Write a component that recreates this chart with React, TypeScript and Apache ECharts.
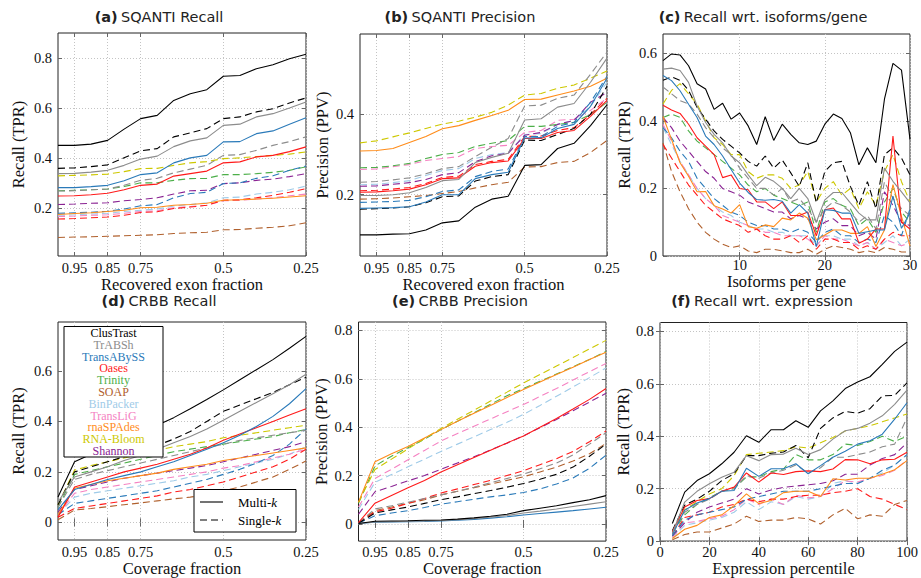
import { useEffect, useRef } from 'react';
import * as echarts from 'echarts';

// ---------- x values & ticks ----------
const FRACTION_X = [1, 0.95, 0.9, 0.85, 0.8, 0.75, 0.7, 0.65, 0.6, 0.55, 0.5, 0.45, 0.4, 0.35, 0.3, 0.25];
const FRACTION_TICKS = [0.95, 0.85, 0.75, 0.5, 0.25];
const ISOFORM_X = [1, 2, 3, 4, 5, 6, 7, 8, 9, 10, 11, 12, 13, 14, 15, 16, 17, 18, 19, 20, 21, 22, 23, 24, 25, 26, 27, 28, 29, 30];
const ISOFORM_TICKS = [10, 20, 30];
const EXPR_X = [5, 10, 15, 20, 25, 30, 35, 40, 45, 50, 55, 60, 65, 70, 75, 80, 85, 90, 95, 100];
const EXPR_TICKS = [0, 20, 40, 60, 80, 100];

// ---------- tools ----------
const TOOL_NAMES = ['ClusTrast', 'TrABSh', 'TransABySS', 'Oases', 'Trinity', 'SOAP', 'BinPacker', 'TransLiG', 'rnaSPAdes', 'RNA-Bloom', 'Shannon'];
const TOOL_COLORS: Record<string, string> = {
  ClusTrast: '#000000',
  TrABSh: '#8c8c8c',
  TransABySS: '#2a7ab9',
  Oases: '#ff1a1a',
  Trinity: '#4daf4a',
  SOAP: '#b0602d',
  BinPacker: '#9fcbe8',
  TransLiG: '#f582c2',
  rnaSPAdes: '#ff8c1a',
  'RNA-Bloom': '#cdc800',
  Shannon: '#8a2393',
};
// draw order: single-k (dashed) first, multi-k (solid) on top
const SERIES_KEYS = [
  'SOAP:S', 'BinPacker:S', 'TransLiG:S', 'Shannon:S', 'Trinity:S', 'RNA-Bloom:S', 'Oases:S', 'TransABySS:S', 'TrABSh:S', 'ClusTrast:S',
  'rnaSPAdes:M', 'Oases:M', 'TransABySS:M', 'TrABSh:M', 'ClusTrast:M',
];

// ---------- (a) SQANTI Recall ----------
const sqantiRecall: Record<string, number[]> = {
  'ClusTrast:M': [0.45, 0.45, 0.455, 0.47, 0.515, 0.557, 0.57, 0.63, 0.657, 0.673, 0.727, 0.73, 0.757, 0.773, 0.797, 0.815],
  'ClusTrast:S': [0.358, 0.36, 0.365, 0.372, 0.4, 0.428, 0.437, 0.484, 0.5, 0.517, 0.557, 0.564, 0.584, 0.597, 0.62, 0.64],
  'TrABSh:M': [0.337, 0.338, 0.343, 0.35, 0.37, 0.395, 0.407, 0.445, 0.468, 0.48, 0.53, 0.535, 0.564, 0.577, 0.6, 0.624],
  'TrABSh:S': [0.267, 0.268, 0.272, 0.275, 0.29, 0.31, 0.318, 0.34, 0.355, 0.37, 0.41, 0.413, 0.43, 0.45, 0.465, 0.484],
  'TransABySS:M': [0.281, 0.281, 0.285, 0.29, 0.308, 0.333, 0.34, 0.38, 0.4, 0.41, 0.464, 0.465, 0.497, 0.508, 0.535, 0.561],
  'TransABySS:S': [0.178, 0.18, 0.182, 0.186, 0.195, 0.208, 0.213, 0.24, 0.257, 0.262, 0.297, 0.3, 0.318, 0.328, 0.35, 0.367],
  'Oases:M': [0.247, 0.248, 0.252, 0.258, 0.272, 0.29, 0.295, 0.327, 0.337, 0.347, 0.38, 0.384, 0.404, 0.41, 0.425, 0.444],
  'Oases:S': [0.155, 0.157, 0.16, 0.163, 0.17, 0.181, 0.184, 0.197, 0.203, 0.21, 0.23, 0.232, 0.24, 0.25, 0.262, 0.277],
  'Trinity:S': [0.268, 0.27, 0.272, 0.275, 0.285, 0.3, 0.3, 0.31, 0.317, 0.318, 0.333, 0.333, 0.337, 0.342, 0.35, 0.364],
  'RNA-Bloom:S': [0.328, 0.33, 0.332, 0.335, 0.345, 0.357, 0.358, 0.37, 0.38, 0.385, 0.397, 0.4, 0.405, 0.41, 0.415, 0.424],
  'Shannon:S': [0.213, 0.215, 0.218, 0.22, 0.228, 0.233, 0.24, 0.255, 0.268, 0.27, 0.297, 0.3, 0.31, 0.315, 0.325, 0.337],
  'BinPacker:S': [0.17, 0.172, 0.175, 0.178, 0.185, 0.19, 0.195, 0.207, 0.213, 0.22, 0.24, 0.243, 0.255, 0.262, 0.272, 0.287],
  'TransLiG:S': [0.165, 0.167, 0.17, 0.172, 0.178, 0.185, 0.188, 0.2, 0.205, 0.21, 0.228, 0.23, 0.235, 0.24, 0.248, 0.255],
  'rnaSPAdes:M': [0.173, 0.177, 0.18, 0.185, 0.19, 0.2, 0.202, 0.21, 0.213, 0.218, 0.23, 0.232, 0.235, 0.238, 0.243, 0.248],
  'SOAP:S': [0.081, 0.083, 0.084, 0.086, 0.088, 0.09, 0.092, 0.097, 0.1, 0.102, 0.112, 0.113, 0.118, 0.122, 0.128, 0.14],
};

// ---------- (b) SQANTI Precision ----------
const sqantiPrecision: Record<string, number[]> = {
  'ClusTrast:M': [0.1, 0.1, 0.102, 0.103, 0.112, 0.13, 0.135, 0.169, 0.189, 0.196, 0.273, 0.275, 0.315, 0.328, 0.372, 0.424],
  'ClusTrast:S': [0.164, 0.165, 0.167, 0.17, 0.18, 0.195, 0.197, 0.234, 0.245, 0.25, 0.336, 0.335, 0.35, 0.365, 0.4, 0.47],
  'TransABySS:M': [0.166, 0.167, 0.168, 0.17, 0.182, 0.2, 0.2, 0.24, 0.25, 0.256, 0.341, 0.342, 0.365, 0.375, 0.42, 0.49],
  'TransABySS:S': [0.181, 0.182, 0.183, 0.186, 0.195, 0.208, 0.212, 0.245, 0.258, 0.264, 0.345, 0.345, 0.37, 0.38, 0.43, 0.495],
  'Oases:M': [0.206, 0.207, 0.21, 0.214, 0.225, 0.24, 0.242, 0.271, 0.28, 0.284, 0.34, 0.34, 0.355, 0.36, 0.395, 0.435],
  'Oases:S': [0.21, 0.211, 0.214, 0.218, 0.228, 0.243, 0.246, 0.275, 0.283, 0.288, 0.345, 0.346, 0.36, 0.367, 0.4, 0.44],
  'TrABSh:M': [0.198, 0.198, 0.2, 0.205, 0.218, 0.235, 0.238, 0.28, 0.293, 0.303, 0.386, 0.389, 0.418, 0.427, 0.48, 0.54],
  'TrABSh:S': [0.231, 0.233, 0.237, 0.242, 0.252, 0.265, 0.27, 0.295, 0.318, 0.34, 0.421, 0.423, 0.44, 0.448, 0.5, 0.555],
  'Trinity:S': [0.267, 0.268, 0.272, 0.278, 0.29, 0.3, 0.305, 0.32, 0.328, 0.335, 0.37, 0.37, 0.375, 0.38, 0.4, 0.43],
  'TransLiG:S': [0.263, 0.264, 0.27, 0.275, 0.285, 0.29, 0.295, 0.315, 0.32, 0.323, 0.355, 0.36, 0.385, 0.388, 0.41, 0.44],
  'BinPacker:S': [0.225, 0.226, 0.23, 0.235, 0.248, 0.26, 0.265, 0.29, 0.3, 0.305, 0.35, 0.352, 0.375, 0.385, 0.42, 0.48],
  'Shannon:S': [0.221, 0.222, 0.226, 0.23, 0.238, 0.25, 0.255, 0.282, 0.297, 0.303, 0.348, 0.355, 0.375, 0.385, 0.43, 0.455],
  'RNA-Bloom:S': [0.329, 0.334, 0.344, 0.354, 0.365, 0.376, 0.383, 0.393, 0.405, 0.423, 0.448, 0.452, 0.465, 0.473, 0.49, 0.508],
  'rnaSPAdes:M': [0.309, 0.31, 0.315, 0.33, 0.345, 0.364, 0.372, 0.385, 0.397, 0.41, 0.437, 0.438, 0.448, 0.458, 0.47, 0.49],
  'SOAP:S': [0.189, 0.19, 0.192, 0.195, 0.198, 0.203, 0.208, 0.217, 0.225, 0.231, 0.269, 0.27, 0.28, 0.283, 0.305, 0.335],
};

// ---------- (c) Recall wrt. isoforms/gene ----------
const isoformRecall: Record<string, number[]> = {
  'ClusTrast:M': [0.578, 0.598, 0.595, 0.563, 0.51, 0.494, 0.434, 0.452, 0.405, 0.423, 0.385, 0.33, 0.412, 0.342, 0.39, 0.36, 0.335, 0.33, 0.34, 0.39, 0.42, 0.407, 0.365, 0.27, 0.32, 0.276, 0.464, 0.57, 0.55, 0.345],
  'ClusTrast:S': [0.52, 0.53, 0.52, 0.49, 0.44, 0.405, 0.37, 0.345, 0.325, 0.305, 0.28, 0.266, 0.296, 0.26, 0.284, 0.246, 0.206, 0.276, 0.157, 0.25, 0.276, 0.28, 0.206, 0.15, 0.22, 0.14, 0.3, 0.32, 0.29, 0.24],
  'TrABSh:M': [0.553, 0.556, 0.549, 0.514, 0.444, 0.395, 0.36, 0.335, 0.296, 0.276, 0.24, 0.208, 0.233, 0.221, 0.2, 0.17, 0.2, 0.17, 0.1, 0.166, 0.188, 0.188, 0.157, 0.127, 0.107, 0.107, 0.26, 0.221, 0.19, 0.157],
  'TrABSh:S': [0.5, 0.48, 0.46, 0.45, 0.42, 0.38, 0.35, 0.32, 0.3, 0.26, 0.23, 0.2, 0.2, 0.18, 0.2, 0.16, 0.17, 0.14, 0.1, 0.14, 0.16, 0.15, 0.13, 0.1, 0.12, 0.08, 0.22, 0.17, 0.14, 0.12],
  'TransABySS:M': [0.534, 0.519, 0.489, 0.449, 0.41, 0.355, 0.33, 0.296, 0.256, 0.216, 0.188, 0.167, 0.165, 0.167, 0.162, 0.127, 0.152, 0.127, 0.028, 0.137, 0.135, 0.127, 0.127, 0.067, 0.072, 0.077, 0.077, 0.177, 0.082, 0.127],
  'TransABySS:S': [0.38, 0.35, 0.31, 0.28, 0.23, 0.2, 0.17, 0.15, 0.13, 0.12, 0.1, 0.09, 0.09, 0.08, 0.08, 0.07, 0.08, 0.07, 0.04, 0.07, 0.08, 0.06, 0.06, 0.04, 0.05, 0.04, 0.12, 0.1, 0.06, 0.14],
  'Oases:M': [0.446, 0.432, 0.422, 0.39, 0.35, 0.325, 0.3, 0.232, 0.24, 0.2, 0.196, 0.16, 0.16, 0.14, 0.16, 0.12, 0.12, 0.13, 0.06, 0.137, 0.142, 0.11, 0.11, 0.038, 0.05, 0.08, 0.08, 0.355, 0.1, 0.08],
  'Oases:S': [0.33, 0.29, 0.25, 0.21, 0.18, 0.15, 0.13, 0.11, 0.1, 0.09, 0.07, 0.08, 0.06, 0.05, 0.05, 0.06, 0.04, 0.06, 0.02, 0.05, 0.05, 0.04, 0.04, 0.02, 0.03, 0.02, 0.05, 0.07, 0.06, 0.06],
  'Trinity:S': [0.41, 0.42, 0.41, 0.37, 0.34, 0.32, 0.3, 0.28, 0.26, 0.24, 0.21, 0.19, 0.2, 0.18, 0.17, 0.16, 0.15, 0.16, 0.07, 0.16, 0.17, 0.15, 0.14, 0.09, 0.11, 0.07, 0.16, 0.2, 0.13, 0.1],
  'RNA-Bloom:S': [0.45, 0.49, 0.51, 0.48, 0.45, 0.4, 0.35, 0.33, 0.3, 0.3, 0.25, 0.23, 0.24, 0.24, 0.23, 0.2, 0.21, 0.25, 0.16, 0.2, 0.22, 0.18, 0.2, 0.14, 0.19, 0.15, 0.25, 0.3, 0.22, 0.16],
  'Shannon:S': [0.41, 0.38, 0.34, 0.31, 0.28, 0.25, 0.23, 0.2, 0.19, 0.18, 0.16, 0.15, 0.14, 0.13, 0.13, 0.11, 0.12, 0.11, 0.08, 0.1, 0.11, 0.09, 0.09, 0.06, 0.07, 0.05, 0.19, 0.15, 0.1, 0.09],
  'BinPacker:S': [0.38, 0.33, 0.28, 0.24, 0.2, 0.17, 0.15, 0.13, 0.12, 0.1, 0.09, 0.08, 0.08, 0.07, 0.07, 0.06, 0.06, 0.06, 0.03, 0.06, 0.06, 0.05, 0.05, 0.03, 0.04, 0.02, 0.04, 0.06, 0.03, 0.05],
  'TransLiG:S': [0.39, 0.34, 0.28, 0.24, 0.2, 0.17, 0.15, 0.12, 0.11, 0.1, 0.09, 0.08, 0.07, 0.07, 0.06, 0.06, 0.06, 0.05, 0.03, 0.06, 0.05, 0.05, 0.04, 0.03, 0.04, 0.02, 0.05, 0.04, 0.03, 0.04],
  'rnaSPAdes:M': [0.413, 0.345, 0.276, 0.236, 0.19, 0.191, 0.149, 0.139, 0.127, 0.152, 0.087, 0.082, 0.092, 0.087, 0.112, 0.107, 0.127, 0.112, 0.048, 0.062, 0.077, 0.077, 0.067, 0.067, 0.087, 0.028, 0.077, 0.211, 0.117, 0.03],
  'SOAP:S': [0.335, 0.25, 0.19, 0.14, 0.1, 0.07, 0.05, 0.035, 0.025, 0.03, 0.015, 0.01, 0.02, 0.02, 0.015, 0.01, 0.01, 0.02, 0.005, 0.02, 0.03, 0.025, 0.02, 0.01, 0.015, 0.01, 0.025, 0.02, 0.012, 0.012],
};

// ---------- (d) CRBB Recall ----------
const crbbRecall: Record<string, number[]> = {
  'ClusTrast:M': [0.1, 0.24, 0.27, 0.3, 0.33, 0.355, 0.385, 0.415, 0.45, 0.487, 0.525, 0.565, 0.605, 0.645, 0.69, 0.737],
  'ClusTrast:S': [0.07, 0.2, 0.22, 0.24, 0.26, 0.28, 0.305, 0.33, 0.36, 0.4, 0.44, 0.465, 0.49, 0.515, 0.545, 0.575],
  'TrABSh:M': [0.08, 0.18, 0.2, 0.22, 0.245, 0.265, 0.29, 0.315, 0.34, 0.37, 0.405, 0.44, 0.475, 0.51, 0.545, 0.587],
  'TrABSh:S': [0.06, 0.17, 0.19, 0.205, 0.22, 0.235, 0.25, 0.265, 0.28, 0.295, 0.31, 0.325, 0.335, 0.345, 0.355, 0.365],
  'TransABySS:M': [0.05, 0.13, 0.15, 0.17, 0.185, 0.2, 0.22, 0.24, 0.265, 0.29, 0.315, 0.345, 0.38, 0.42, 0.47, 0.53],
  'TransABySS:S': [0.03, 0.075, 0.085, 0.095, 0.105, 0.115, 0.125, 0.14, 0.155, 0.17, 0.19, 0.21, 0.235, 0.265, 0.31, 0.37],
  'Oases:M': [0.02, 0.14, 0.16, 0.18, 0.2, 0.215, 0.23, 0.25, 0.27, 0.295, 0.325, 0.35, 0.375, 0.4, 0.425, 0.45],
  'Oases:S': [0.02, 0.055, 0.065, 0.075, 0.085, 0.095, 0.105, 0.12, 0.13, 0.145, 0.16, 0.18, 0.2, 0.22, 0.25, 0.29],
  'Trinity:S': [0.06, 0.19, 0.205, 0.22, 0.235, 0.25, 0.265, 0.28, 0.29, 0.3, 0.31, 0.32, 0.33, 0.34, 0.355, 0.368],
  'RNA-Bloom:S': [0.07, 0.207, 0.225, 0.24, 0.255, 0.27, 0.285, 0.3, 0.31, 0.32, 0.335, 0.345, 0.355, 0.365, 0.375, 0.385],
  'Shannon:S': [0.04, 0.13, 0.145, 0.16, 0.175, 0.185, 0.195, 0.205, 0.215, 0.225, 0.24, 0.255, 0.27, 0.285, 0.3, 0.32],
  'BinPacker:S': [0.03, 0.1, 0.115, 0.125, 0.135, 0.145, 0.155, 0.165, 0.18, 0.19, 0.205, 0.22, 0.235, 0.25, 0.27, 0.3],
  'TransLiG:S': [0.03, 0.115, 0.13, 0.14, 0.15, 0.16, 0.17, 0.18, 0.19, 0.2, 0.215, 0.225, 0.24, 0.255, 0.27, 0.29],
  'rnaSPAdes:M': [0.03, 0.135, 0.15, 0.165, 0.175, 0.185, 0.195, 0.21, 0.22, 0.23, 0.245, 0.255, 0.265, 0.275, 0.285, 0.295],
  'SOAP:S': [0.01, 0.049, 0.055, 0.062, 0.07, 0.077, 0.085, 0.093, 0.1, 0.11, 0.125, 0.14, 0.16, 0.18, 0.21, 0.243],
};

// ---------- (e) CRBB Precision ----------
const crbbPrecision: Record<string, number[]> = {
  'ClusTrast:M': [0.002, 0.011, 0.012, 0.013, 0.015, 0.016, 0.02, 0.025, 0.032, 0.04, 0.055, 0.065, 0.075, 0.088, 0.1, 0.117],
  'ClusTrast:S': [0.003, 0.045, 0.058, 0.07, 0.085, 0.1, 0.112, 0.125, 0.138, 0.152, 0.167, 0.185, 0.205, 0.235, 0.28, 0.33],
  'TrABSh:M': [0.002, 0.008, 0.009, 0.011, 0.012, 0.014, 0.017, 0.022, 0.028, 0.035, 0.045, 0.053, 0.062, 0.072, 0.082, 0.092],
  'TrABSh:S': [0.005, 0.062, 0.075, 0.09, 0.105, 0.12, 0.135, 0.152, 0.17, 0.188, 0.206, 0.228, 0.252, 0.285, 0.33, 0.377],
  'TransABySS:M': [0.002, 0.007, 0.008, 0.009, 0.01, 0.012, 0.015, 0.019, 0.024, 0.03, 0.037, 0.043, 0.049, 0.055, 0.062, 0.069],
  'TransABySS:S': [0.003, 0.034, 0.045, 0.055, 0.068, 0.082, 0.092, 0.102, 0.112, 0.12, 0.13, 0.145, 0.165, 0.19, 0.23, 0.284],
  'Oases:M': [0.005, 0.086, 0.118, 0.15, 0.18, 0.215, 0.245, 0.275, 0.305, 0.335, 0.364, 0.4, 0.436, 0.475, 0.515, 0.56],
  'Oases:S': [0.005, 0.05, 0.065, 0.085, 0.105, 0.128, 0.145, 0.163, 0.18, 0.2, 0.22, 0.245, 0.27, 0.3, 0.34, 0.384],
  'Trinity:S': [0.085, 0.24, 0.28, 0.315, 0.35, 0.39, 0.425, 0.46, 0.495, 0.53, 0.56, 0.59, 0.62, 0.65, 0.68, 0.713],
  'RNA-Bloom:S': [0.09, 0.225, 0.268, 0.31, 0.353, 0.395, 0.433, 0.47, 0.508, 0.545, 0.583, 0.618, 0.653, 0.688, 0.724, 0.759],
  'Shannon:S': [0.04, 0.133, 0.155, 0.178, 0.2, 0.226, 0.252, 0.278, 0.306, 0.334, 0.364, 0.398, 0.432, 0.468, 0.504, 0.54],
  'BinPacker:S': [0.06, 0.172, 0.204, 0.236, 0.268, 0.3, 0.33, 0.36, 0.39, 0.42, 0.453, 0.49, 0.528, 0.566, 0.605, 0.645],
  'TransLiG:S': [0.07, 0.188, 0.226, 0.265, 0.304, 0.343, 0.374, 0.404, 0.434, 0.464, 0.494, 0.527, 0.56, 0.595, 0.63, 0.663],
  'rnaSPAdes:M': [0.09, 0.257, 0.29, 0.32, 0.355, 0.39, 0.425, 0.458, 0.49, 0.523, 0.556, 0.587, 0.618, 0.648, 0.68, 0.71],
  'SOAP:S': [0.005, 0.055, 0.07, 0.085, 0.1, 0.12, 0.135, 0.15, 0.165, 0.18, 0.195, 0.215, 0.235, 0.26, 0.29, 0.333],
};

// ---------- (f) Recall wrt. expression ----------
const exprRecall: Record<string, number[]> = {
  'ClusTrast:M': [0.067, 0.187, 0.231, 0.257, 0.295, 0.339, 0.402, 0.377, 0.425, 0.425, 0.459, 0.434, 0.497, 0.535, 0.582, 0.607, 0.627, 0.674, 0.724, 0.759],
  'ClusTrast:S': [0.04, 0.137, 0.16, 0.19, 0.231, 0.257, 0.326, 0.326, 0.335, 0.34, 0.365, 0.318, 0.43, 0.47, 0.495, 0.488, 0.505, 0.554, 0.556, 0.604],
  'TrABSh:M': [0.03, 0.149, 0.19, 0.219, 0.244, 0.263, 0.326, 0.307, 0.33, 0.332, 0.354, 0.33, 0.349, 0.389, 0.421, 0.43, 0.45, 0.478, 0.522, 0.576],
  'TrABSh:S': [0.03, 0.11, 0.14, 0.16, 0.19, 0.2, 0.25, 0.24, 0.26, 0.27, 0.29, 0.26, 0.28, 0.32, 0.32, 0.33, 0.34, 0.36, 0.37, 0.47],
  'TransABySS:M': [0.025, 0.118, 0.145, 0.162, 0.19, 0.193, 0.278, 0.247, 0.276, 0.276, 0.295, 0.257, 0.288, 0.32, 0.343, 0.37, 0.383, 0.408, 0.465, 0.528],
  'TransABySS:S': [0.02, 0.08, 0.1, 0.11, 0.12, 0.13, 0.16, 0.17, 0.18, 0.19, 0.19, 0.19, 0.2, 0.21, 0.22, 0.22, 0.24, 0.27, 0.29, 0.33],
  'Oases:M': [0.035, 0.13, 0.155, 0.162, 0.19, 0.206, 0.26, 0.225, 0.26, 0.254, 0.265, 0.268, 0.265, 0.275, 0.311, 0.31, 0.295, 0.31, 0.312, 0.339],
  'Oases:S': [0.02, 0.09, 0.1, 0.11, 0.13, 0.14, 0.16, 0.15, 0.16, 0.16, 0.17, 0.175, 0.175, 0.185, 0.19, 0.2, 0.17, 0.16, 0.14, 0.12],
  'Trinity:S': [0.03, 0.1, 0.14, 0.165, 0.19, 0.2, 0.245, 0.245, 0.265, 0.275, 0.33, 0.31, 0.31, 0.33, 0.37, 0.365, 0.38, 0.4, 0.38, 0.4],
  'RNA-Bloom:S': [0.03, 0.12, 0.15, 0.18, 0.2, 0.25, 0.33, 0.335, 0.34, 0.345, 0.36, 0.355, 0.375, 0.395, 0.42, 0.43, 0.44, 0.455, 0.47, 0.485],
  'Shannon:S': [0.02, 0.07, 0.11, 0.13, 0.145, 0.16, 0.2, 0.18, 0.195, 0.205, 0.21, 0.215, 0.22, 0.23, 0.255, 0.255, 0.29, 0.315, 0.33, 0.375],
  'BinPacker:S': [0.01, 0.06, 0.07, 0.08, 0.09, 0.11, 0.15, 0.12, 0.15, 0.14, 0.17, 0.16, 0.17, 0.22, 0.23, 0.22, 0.24, 0.26, 0.29, 0.33],
  'TransLiG:S': [0.015, 0.07, 0.075, 0.085, 0.095, 0.12, 0.16, 0.14, 0.16, 0.14, 0.175, 0.165, 0.17, 0.2, 0.23, 0.225, 0.24, 0.25, 0.27, 0.31],
  'rnaSPAdes:M': [0.01, 0.045, 0.06, 0.09, 0.1, 0.135, 0.18, 0.143, 0.155, 0.185, 0.19, 0.19, 0.17, 0.238, 0.233, 0.24, 0.24, 0.255, 0.272, 0.307],
  'SOAP:S': [0.005, 0.025, 0.035, 0.035, 0.05, 0.065, 0.095, 0.075, 0.08, 0.08, 0.09, 0.085, 0.065, 0.1, 0.125, 0.085, 0.1, 0.095, 0.14, 0.155],
};

// ---------- layout ----------
const SERIF = 'Liberation Serif';
const SANS = 'DejaVu Sans';

type Panel = {
  label: string; title: string; tx: number; ty: number;
  grid: { left: number; top: number; width: number; height: number };
  xs: number[]; xMin: number; xMax: number; inverse: boolean; xTicks: number[]; xName: string; xLabelMargin: number; xNameGap: number;
  yMin: number; yMax: number; yTicks: number[]; yName: string; yNameGap: number;
  data: Record<string, number[]>;
};

const PANELS: Panel[] = [
  { label: '(a)', title: 'SQANTI Recall', tx: 159, ty: 17, grid: { left: 58, top: 33, width: 248, height: 223 },
    xs: FRACTION_X, xMin: 0.25, xMax: 1, inverse: true, xTicks: FRACTION_TICKS, xName: 'Recovered exon fraction', xLabelMargin: 4, xNameGap: 15,
    yMin: 0.007, yMax: 0.9, yTicks: [0.2, 0.4, 0.6, 0.8], yName: 'Recall (TPR)', yNameGap: 31, data: sqantiRecall },
  { label: '(b)', title: 'SQANTI Precision', tx: 460, ty: 17, grid: { left: 360, top: 34, width: 247, height: 222 },
    xs: FRACTION_X, xMin: 0.25, xMax: 1, inverse: true, xTicks: FRACTION_TICKS, xName: 'Recovered exon fraction', xLabelMargin: 4, xNameGap: 15,
    yMin: 0.0475, yMax: 0.6, yTicks: [0.2, 0.4], yName: 'Precision (PPV)', yNameGap: 29, data: sqantiPrecision },
  { label: '(c)', title: 'Recall wrt. isoforms/gene', tx: 763, ty: 17, grid: { left: 663, top: 34, width: 247, height: 222 },
    xs: ISOFORM_X, xMin: 1, xMax: 30, inverse: false, xTicks: ISOFORM_TICKS, xName: 'Isoforms per gene', xLabelMargin: 1, xNameGap: 13,
    yMin: 0, yMax: 0.657, yTicks: [0, 0.2, 0.4, 0.6], yName: 'Recall (TPR)', yNameGap: 30, data: isoformRecall },
  { label: '(d)', title: 'CRBB Recall', tx: 159, ty: 301, grid: { left: 58, top: 322, width: 248, height: 218 },
    xs: FRACTION_X, xMin: 0.25, xMax: 1, inverse: true, xTicks: FRACTION_TICKS, xName: 'Coverage fraction', xLabelMargin: 4, xNameGap: 16,
    yMin: -0.07, yMax: 0.794, yTicks: [0, 0.2, 0.4, 0.6], yName: 'Recall (TPR)', yNameGap: 31, data: crbbRecall },
  { label: '(e)', title: 'CRBB Precision', tx: 460, ty: 301, grid: { left: 358.5, top: 322, width: 247.5, height: 220 },
    xs: FRACTION_X, xMin: 0.25, xMax: 1, inverse: true, xTicks: FRACTION_TICKS, xName: 'Coverage fraction', xLabelMargin: 3, xNameGap: 16,
    yMin: -0.071, yMax: 0.835, yTicks: [0, 0.2, 0.4, 0.6, 0.8], yName: 'Precision (PPV)', yNameGap: 29, data: crbbPrecision },
  { label: '(f)', title: 'Recall wrt. expression', tx: 762, ty: 301, grid: { left: 660, top: 322.5, width: 247, height: 220 },
    xs: EXPR_X, xMin: 0, xMax: 100, inverse: false, xTicks: EXPR_TICKS, xName: 'Expression percentile', xLabelMargin: 3, xNameGap: 16,
    yMin: 0, yMax: 0.834, yTicks: [0, 0.2, 0.4, 0.6, 0.8], yName: 'Recall (TPR)', yNameGap: 27, data: exprRecall },
];

function buildOption() {
  const grids: any[] = [];
  const xAxes: any[] = [];
  const yAxes: any[] = [];
  const series: any[] = [];
  const graphics: any[] = [];
  const labelStyle = { fontFamily: SERIF, fontSize: 14.5, color: '#111' };
  const nameStyle = { fontFamily: SERIF, fontSize: 16.5, color: '#111' };
  const splitStyle = { show: true, lineStyle: { type: [1, 2], color: '#c4c4c4', width: 1 } };
  const tickStyle = { color: '#666', width: 1 };

  PANELS.forEach((p, i) => {
    grids.push({ ...p.grid, show: true, borderColor: '#222', borderWidth: 1, backgroundColor: 'transparent', containLabel: false });
    xAxes.push({
      gridIndex: i, type: 'value', min: p.xMin, max: p.xMax, inverse: p.inverse, position: 'bottom',
      axisLine: { show: false },
      axisTick: { show: true, inside: true, length: 4, lineStyle: tickStyle, customValues: p.xTicks },
      axisLabel: { ...labelStyle, margin: p.xLabelMargin, customValues: p.xTicks, formatter: (v: number) => String(v), hideOverlap: false },
      splitLine: splitStyle,
      name: p.xName, nameLocation: 'middle', nameGap: p.xNameGap,
      nameTextStyle: { ...nameStyle, verticalAlign: 'top' },
    });
    yAxes.push({
      gridIndex: i, type: 'value', min: p.yMin, max: p.yMax, position: 'left',
      axisLine: { show: false },
      axisTick: { show: true, inside: true, length: 4, lineStyle: tickStyle, customValues: p.yTicks },
      axisLabel: { ...labelStyle, margin: 6, customValues: p.yTicks, formatter: (v: number) => String(v), hideOverlap: false },
      splitLine: splitStyle,
      name: p.yName, nameLocation: 'middle', nameGap: p.yNameGap,
      nameTextStyle: nameStyle,
    });
    SERIES_KEYS.forEach((key) => {
      const [tool, kind] = key.split(':');
      const ys = p.data[key];
      if (!ys) return;
      series.push({
        type: 'line', name: `${tool} ${kind}`, xAxisIndex: i, yAxisIndex: i,
        data: p.xs.map((x, j) => [x, ys[j]]),
        showSymbol: false, symbol: 'none', silent: true, clip: true,
        lineStyle: { color: TOOL_COLORS[tool], width: 1.1, type: kind === 'S' ? [7, 4] : 'solid' },
      });
    });
    graphics.push({
      type: 'text', x: p.tx, y: p.ty,
      style: {
        text: `{b|${p.label}} {n|${p.title}}`,
        align: 'center', verticalAlign: 'middle',
        rich: {
          b: { fontFamily: SANS, fontSize: 14.5, fontWeight: 'bold', fill: '#222' },
          n: { fontFamily: SANS, fontSize: 14.5, fill: '#222' },
        },
      },
    });
  });

  // mirrored tick marks on top / right edges (pgfplots style)
  PANELS.forEach((p, i) => {
    xAxes.push({
      gridIndex: i, type: 'value', min: p.xMin, max: p.xMax, inverse: p.inverse, position: 'top',
      axisLine: { show: false }, axisLabel: { show: false }, splitLine: { show: false },
      axisTick: { show: true, inside: true, length: 4, lineStyle: tickStyle, customValues: p.xTicks },
    });
    yAxes.push({
      gridIndex: i, type: 'value', min: p.yMin, max: p.yMax, position: 'right',
      axisLine: { show: false }, axisLabel: { show: false }, splitLine: { show: false },
      axisTick: { show: true, inside: true, length: 4, lineStyle: tickStyle, customValues: p.yTicks },
    });
  });

  // Tool legend (inside panel d)
  const lx = 64, ly = 326.5, lw = 99, lh = 130.5;
  graphics.push({ type: 'rect', shape: { x: lx, y: ly, width: lw, height: lh }, style: { fill: '#fff', stroke: '#000', lineWidth: 1 }, z: 100 });
  TOOL_NAMES.forEach((name, k) => {
    graphics.push({
      type: 'text', x: lx + lw / 2, y: ly + 6.5 + k * 11.8, z: 101,
      style: { text: name, fill: TOOL_COLORS[name], fontFamily: SERIF, fontSize: 12, lineHeight: 11, align: 'center', verticalAlign: 'middle' },
    });
  });
  // k legend (inside panel d)
  const kx = 194, ky = 489.5, kw = 102, kh = 42.5;
  graphics.push({ type: 'rect', shape: { x: kx, y: ky, width: kw, height: kh }, style: { fill: '#fff', stroke: '#000', lineWidth: 1 }, z: 100 });
  graphics.push({ type: 'line', shape: { x1: kx + 6, y1: ky + 12.5, x2: kx + 29, y2: ky + 12.5 }, style: { stroke: '#000', lineWidth: 1.1 }, z: 101 });
  graphics.push({ type: 'line', shape: { x1: kx + 6, y1: ky + 30.5, x2: kx + 29, y2: ky + 30.5 }, style: { stroke: '#000', lineWidth: 1.1, lineDash: [7, 4] }, z: 101 });
  const kRich = { n: { fontFamily: SERIF, fontSize: 13, fill: '#000' }, k: { fontFamily: SERIF, fontSize: 13, fontStyle: 'italic', fill: '#000' } };
  graphics.push({ type: 'text', x: kx + 44, y: ky + 12.5, z: 101, style: { text: '{n|Multi-}{k|k}', rich: kRich, verticalAlign: 'middle', align: 'left' } });
  graphics.push({ type: 'text', x: kx + 44, y: ky + 30.5, z: 101, style: { text: '{n|Single-}{k|k}', rich: kRich, verticalAlign: 'middle', align: 'left' } });

  return {
    animation: false,
    backgroundColor: '#ffffff',
    grid: grids,
    xAxis: xAxes,
    yAxis: yAxes,
    series,
    graphic: graphics,
  };
}

export default function App() {
  const ref = useRef<HTMLDivElement>(null);
  useEffect(() => {
    if (!ref.current) return;
    const chart = echarts.init(ref.current, undefined, { renderer: 'svg' });
    chart.setOption(buildOption() as any);
    return () => chart.dispose();
  }, []);
  return <div ref={ref} style={{ position: 'fixed', left: 0, top: 0, width: 921, height: 578 }} />;
}
